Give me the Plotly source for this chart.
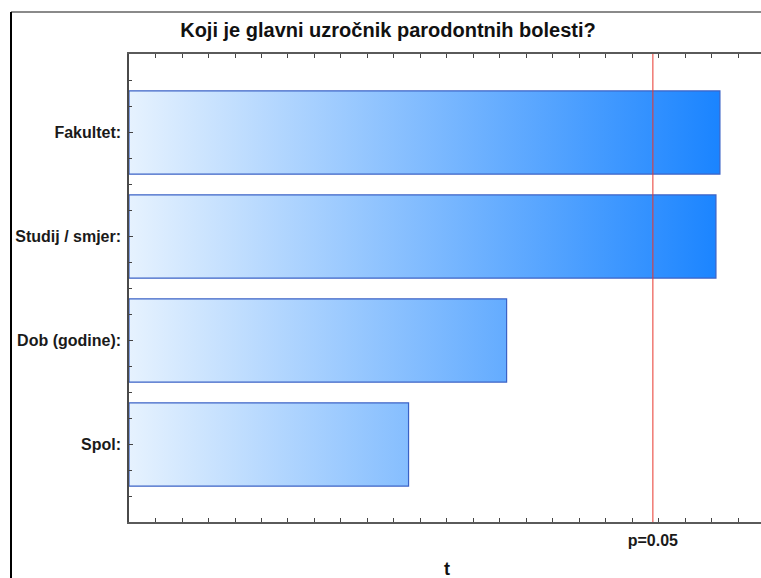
import plotly.graph_objects as go

# Data
categories = ["Spol:", "Dob (godine):", "Studij / smjer:", "Fakultet:"]
t_values = [1.055, 1.425, 2.215, 2.23]
t_critical = 1.977
crit_label = "p=0.05"
title_text = "Koji je glavni uzročnik parodontnih bolesti?"
x_title = "t"

W, H = 761, 578
ML, MR, MT, MB = 129, 0, 54, 56
x_max = 2.385
bar_half = 0.4
y_lo, y_hi = -0.745, 3.755

fig = go.Figure()
for i, (cat, v) in enumerate(zip(categories, t_values)):
    fig.add_trace(go.Scatter(
        x=[0, v, v, 0, 0],
        y=[i - bar_half, i - bar_half, i + bar_half, i + bar_half, i - bar_half],
        mode="lines",
        fill="toself",
        fillgradient=dict(type="horizontal",
                          colorscale=[[0, "#e6f2fe"], [1, "#1a84ff"]],
                          start=0, stop=max(t_values)),
        line=dict(color="#3a62c6", width=1.2),
        hoverinfo="text",
        text=f"{cat} {v}",
        showlegend=False,
        name=cat,
    ))

fig.update_layout(
    width=W, height=H, autosize=False,
    margin=dict(l=ML, r=MR, t=MT, b=MB, pad=0, autoexpand=False),
    paper_bgcolor="white", plot_bgcolor="white",
    font=dict(family="Liberation Sans, Arial, sans-serif", color="#1a1a1a"),
    title=dict(text=f"<b>{title_text}</b>", x=388 / W, xanchor="center",
               y=1 - 30 / H, yanchor="middle", yref="container",
               font=dict(size=20, color="#111")),
    xaxis=dict(range=[0, x_max], tickmode="array", tickvals=[t_critical],
               ticktext=[f"<b>{crit_label}</b>"], ticks="inside", ticklen=0,
               tickfont=dict(size=16, color="#1a1a1a"), ticklabelstandoff=3,
               minor=dict(tickmode="linear", tick0=0, dtick=0.1, ticks="inside",
                          ticklen=4, tickcolor="#444"),
               showline=True, linecolor="#5a5a5a", linewidth=1.5, mirror="ticks",
               showgrid=False, zeroline=False),
    yaxis=dict(range=[y_lo, y_hi], tickmode="array", tickvals=list(range(len(categories))),
               ticktext=[f"<b>{c}</b>" for c in categories], ticks="inside", ticklen=4,
               tickcolor="#444", tickfont=dict(size=16, color="#1a1a1a"),
               ticklabelstandoff=3,
               minor=dict(tickmode="linear", tick0=0, dtick=0.25, ticks="inside",
                          ticklen=3, tickcolor="#444"),
               showline=True, linecolor="#4a4a4a", linewidth=1.5, mirror=False,
               showgrid=False, zeroline=False),
)

plot_w = W - ML - MR
plot_h = H - MT - MB

# critical value line
fig.add_shape(type="line", xref="x", yref="paper", x0=t_critical, x1=t_critical,
              y0=0, y1=1, line=dict(color="#e8362c", width=1), layer="above")

# outer frame (top gray, left black)
frame_left = (11 - ML) / plot_w
frame_top = (H - MB - 12) / plot_h
fig.add_shape(type="line", xref="paper", yref="paper", x0=frame_left, x1=1.01,
              y0=frame_top, y1=frame_top, line=dict(color="#8a8a8a", width=2))
fig.add_shape(type="line", xref="paper", yref="paper", x0=frame_left, x1=frame_left,
              y0=frame_top, y1=-0.2, line=dict(color="#000000", width=2))

# x-axis title
fig.add_annotation(text=f"<b>{x_title}</b>", xref="paper", yref="paper",
                   x=(447 - ML) / plot_w, y=0, yshift=-47, showarrow=False,
                   xanchor="center", yanchor="middle",
                   font=dict(size=18, color="#111"))

fig.write_html("out.html",
               config={"displayModeBar": False, "responsive": False},
               post_script="document.body.style.margin='0';"
                           "document.body.style.overflow='hidden';")
